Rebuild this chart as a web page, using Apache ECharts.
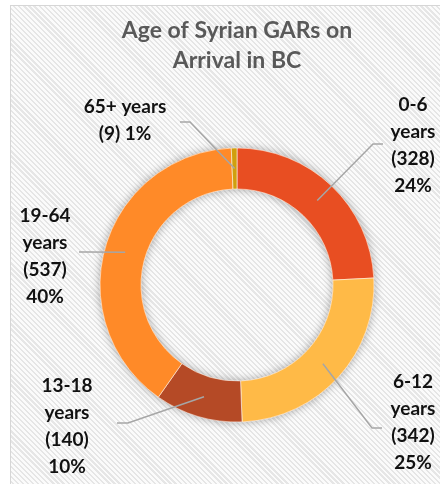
<!DOCTYPE html>
<html>
<head>
<meta charset="utf-8">
<script src="https://cdn.jsdelivr.net/npm/echarts@6/dist/echarts.min.js"></script>
<style>
    html, body { margin: 0; padding: 0; background: #ffffff; }
    #frame {
        position: absolute; left: 10px; top: 5px; width: 440px; height: 490px;
        border-left: 1px solid #d6d6d6; border-top: 1px solid #d6d6d6;
        background: repeating-linear-gradient(45deg, #fbfbfb 0px, #fbfbfb 2px, #e6e6e6 2px, #e6e6e6 3.6px);
    }
    #main { position: absolute; left: 0; top: 0; width: 440px; height: 484px; }
</style>
</head>
<body>
<div id="frame"></div>
<div id="main"></div>
<script>
    // data
    const ageGroups = ['0-6 years', '6-12 years', '13-18 years', '19-64 years', '65+ years'];
    const arrivals = [328, 342, 140, 537, 9];
    const sliceColors = ['#e84e22', '#ffba47', '#b54a26', '#ff8a28', '#d09f0e'];

    // layout
    const center = [237, 285];
    const radius = [96, 137];
    // label centre and end of its guide line, per slice
    const labelPos = [[413, 145], [413, 422], [67, 426], [45, 256], [125, 120]];
    const lineEnd = [[383, 144], [382, 428], [117, 423], [79, 252], [180, 122]];
    const elbowDx = [-10, -10, 11, 10, 10];

    const chart = echarts.init(document.getElementById('main'));

    const total = arrivals.reduce((a, b) => a + b, 0);
    // mid angle of each slice, clockwise from 12 o'clock
    const midAngles = [];
    let acc = 0;
    arrivals.forEach(v => {
        midAngles.push((acc + v / 2) / total * Math.PI * 2);
        acc += v;
    });

    const pieData = ageGroups.map((name, i) => ({ name: name, value: arrivals[i] }));

    const labelText = (p) => {
        if (p.dataIndex === 4) {
            return p.name + '\n(' + p.value + ') ' + p.percent + '%';
        }
        return p.name.replace(' ', '\n') + '\n(' + p.value + ')\n' + p.percent + '%';
    };

    const option = {
        animation: false,
        title: {
            text: 'Age of Syrian GARs on\nArrival in BC',
            left: 232,
            textAlign: 'center',
            top: 11,
            textStyle: {
                fontFamily: 'Lato',
                fontSize: 23,
                fontWeight: 'bold',
                color: '#595959',
                lineHeight: 30
            }
        },
        series: [
            {
                // soft shadow under the ring
                type: 'pie',
                silent: true,
                z: 1,
                center: center,
                radius: radius,
                label: { show: false },
                labelLine: { show: false },
                itemStyle: {
                    color: '#ff8a28',
                    shadowBlur: 10,
                    shadowColor: 'rgba(0,0,0,0.35)'
                },
                data: [1]
            },
            {
                // the ring itself
                type: 'pie',
                z: 2,
                center: center,
                radius: radius,
                startAngle: 90,
                clockwise: true,
                color: sliceColors,
                itemStyle: {
                    borderColor: 'rgba(255,255,255,0.7)',
                    borderWidth: 0.8
                },
                label: { show: false },
                labelLine: { show: false },
                data: pieData
            },
            {
                // same slices, transparent, carrying labels so leader lines sit on top
                type: 'pie',
                z: 3,
                silent: true,
                center: center,
                radius: radius,
                startAngle: 90,
                clockwise: true,
                percentPrecision: 0,
                itemStyle: { color: 'rgba(0,0,0,0)' },
                label: {
                    formatter: labelText,
                    fontFamily: 'Lato',
                    fontSize: 19,
                    fontWeight: 'bold',
                    color: '#111111',
                    lineHeight: 27,
                    align: 'center'
                },
                labelLine: {
                    lineStyle: { color: '#a6a6a6', width: 1.5 }
                },
                labelLayout: (params) => {
                    const i = params.dataIndex;
                    const a = midAngles[i];
                    const r = (radius[0] + radius[1]) / 2;
                    const start = [center[0] + r * Math.sin(a), center[1] - r * Math.cos(a)];
                    const end = lineEnd[i];
                    return {
                        x: labelPos[i][0],
                        y: labelPos[i][1],
                        align: 'center',
                        verticalAlign: 'middle',
                        labelLinePoints: [start, [end[0] + elbowDx[i], end[1]], end]
                    };
                },
                data: pieData
            }
        ]
    };

    chart.setOption(option);
</script>
</body>
</html>
